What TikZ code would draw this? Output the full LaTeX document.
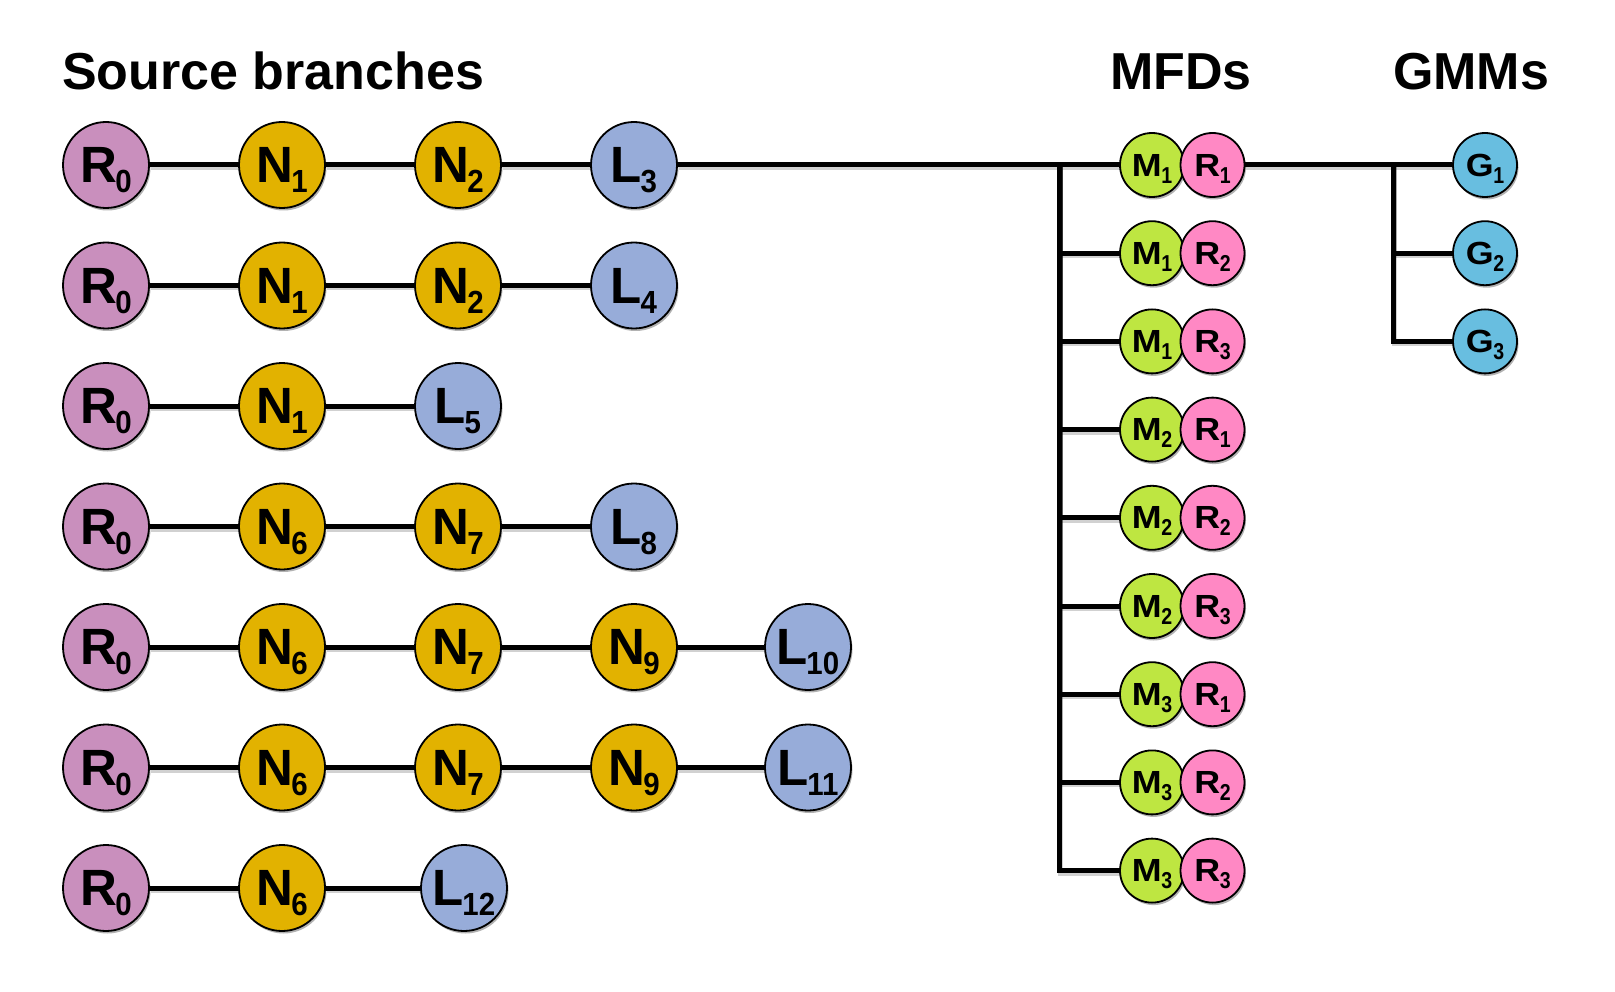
\documentclass[tikz,border=0pt]{standalone}
\usepackage{fontspec}
\setmainfont{Liberation Sans}
\usetikzlibrary{shadows}
\definecolor{rzero}{RGB}{201,143,189}
\definecolor{nyel}{RGB}{226,178,0}
\definecolor{lblue}{RGB}{151,172,217}
\definecolor{mgreen}{RGB}{190,230,65}
\definecolor{rpink}{RGB}{255,136,196}
\definecolor{gcyan}{RGB}{104,190,224}
\newcommand\BL[2]{\fontsize{51}{51}\selectfont\bfseries #1\kern-1.5pt\raisebox{-10pt}[0pt][0pt]{\scalebox{0.92}[1]{\fontsize{32}{32}\selectfont #2}}}
\newcommand\SL[2]{\fontsize{32}{32}\selectfont\bfseries \scalebox{1.12}[1]{#1}\kern-0.5pt\raisebox{-7pt}[0pt][0pt]{\scalebox{0.85}[1]{\fontsize{23}{23}\selectfont #2}}}
\tikzset{
  circ/.style={circle, draw=black, line width=1.8pt, inner sep=0pt,
    drop shadow={shadow xshift=1.5pt, shadow yshift=-2.5pt, opacity=0.3, fill=black}},
  bigc/.style={circ, minimum size=86pt},
  smallc/.style={circ, minimum size=64pt},
  rz/.style={bigc, fill=rzero},
  nn/.style={bigc, fill=nyel},
  ll/.style={bigc, fill=lblue},
  mm/.style={smallc, fill=mgreen},
  rr/.style={smallc, fill=rpink},
  gg/.style={smallc, fill=gcyan},
  conn/.style={line width=5pt, draw=black,
    preaction={draw=black, opacity=0.18, line width=5pt, transform canvas={shift={(1pt,-2.5pt)}}}},
  ttl/.style={anchor=base west, inner sep=0pt, font=\fontsize{52}{52}\selectfont\bfseries}
}
\begin{document}
\begin{tikzpicture}[x=1pt,y=-1pt]
\path[use as bounding box] (0,0) rectangle (1615,992);
% titles
\node[ttl] (t1) at (62,90) {Source branches};
\node[ttl] (t2) at (1110,90) {MFDs};
\node[ttl] (t3) at (1393,90) {GMMs};
% connectors first (drawn under the circles)
\coordinate (vt) at (1059,165);
\coordinate (gt) at (1393,165);
% row 1
\node[rz] (a0) at (106,165) {\BL{R}{0}};
\node[nn] (a1) at (282,165) {\BL{N}{1}};
\node[nn] (a2) at (458,165) {\BL{N}{2}};
\node[ll] (a3) at (634,165) {\BL{L}{3}};
% row 2
\node[rz] (b0) at (106,285.5) {\BL{R}{0}};
\node[nn] (b1) at (282,285.5) {\BL{N}{1}};
\node[nn] (b2) at (458,285.5) {\BL{N}{2}};
\node[ll] (b3) at (634,285.5) {\BL{L}{4}};
% row 3
\node[rz] (c0) at (106,406) {\BL{R}{0}};
\node[nn] (c1) at (282,406) {\BL{N}{1}};
\node[ll] (c2) at (458,406) {\BL{L}{5}};
% row 4
\node[rz] (d0) at (106,526.5) {\BL{R}{0}};
\node[nn] (d1) at (282,526.5) {\BL{N}{6}};
\node[nn] (d2) at (458,526.5) {\BL{N}{7}};
\node[ll] (d3) at (634,526.5) {\BL{L}{8}};
% row 5
\node[rz] (e0) at (106,647) {\BL{R}{0}};
\node[nn] (e1) at (282,647) {\BL{N}{6}};
\node[nn] (e2) at (458,647) {\BL{N}{7}};
\node[nn] (e3) at (634,647) {\BL{N}{9}};
\node[ll] (e4) at (808,647) {\BL{L}{10}};
% row 6
\node[rz] (f0) at (106,767.5) {\BL{R}{0}};
\node[nn] (f1) at (282,767.5) {\BL{N}{6}};
\node[nn] (f2) at (458,767.5) {\BL{N}{7}};
\node[nn] (f3) at (634,767.5) {\BL{N}{9}};
\node[ll] (f4) at (808,767.5) {\BL{L}{11}};
% row 7
\node[rz] (g0) at (106,888) {\BL{R}{0}};
\node[nn] (g1) at (282,888) {\BL{N}{6}};
\node[ll] (g2) at (464,888) {\BL{L}{12}};
% branch connectors
\draw[conn] (a0) -- (a1) (a1) -- (a2) (a2) -- (a3);
\draw[conn] (b0) -- (b1) (b1) -- (b2) (b2) -- (b3);
\draw[conn] (c0) -- (c1) (c1) -- (c2);
\draw[conn] (d0) -- (d1) (d1) -- (d2) (d2) -- (d3);
\draw[conn] (e0) -- (e1) (e1) -- (e2) (e2) -- (e3) (e3) -- (e4);
\draw[conn] (f0) -- (f1) (f1) -- (f2) (f2) -- (f3) (f3) -- (f4);
\draw[conn] (g0) -- (g1) (g1) -- (g2);
% MFDs
\foreach \m/\r [count=\k from 0] in {1/1,1/2,1/3,2/1,2/2,2/3,3/1,3/2,3/3} {
  \pgfmathsetmacro\yy{165+88.2*\k}
  \node[mm] (M\k) at (1152,\yy) {\SL{M}{\m}};
  \node[rr] (Q\k) at (1212.5,\yy) {\SL{R}{\r}};
}
% GMMs
\node[gg] (G0) at (1485,165) {\SL{G}{1}};
\node[gg] (G1) at (1485,253.2) {\SL{G}{2}};
\node[gg] (G2) at (1485,341.4) {\SL{G}{3}};
% trunk lines
\draw[conn] (a3) -- (M0);
\foreach \k in {1,...,8} {
  \draw[conn, line join=miter] (vt) |- (M\k.west);
}
\draw[conn] (Q0) -- (G0);
\draw[conn, line join=miter] (gt) |- (G1.west);
\draw[conn, line join=miter] (gt) |- (G2.west);
\end{tikzpicture}
\end{document}
